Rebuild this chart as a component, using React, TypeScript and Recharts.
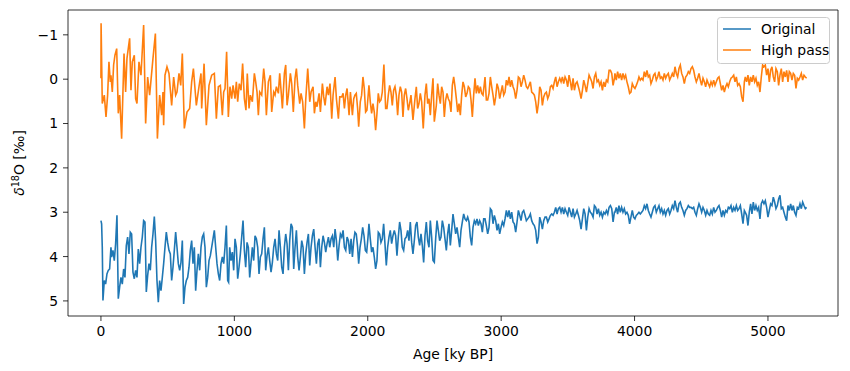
import { LineChart, Line, XAxis, YAxis, ReferenceArea, Legend } from "recharts";

// ages (ky BP) and d18O values, first part differs per series
const highPassAgesEarly = [
  0, 1, 10, 25, 38, 50, 60, 70, 75, 85, 95, 105, 118, 130, 140, 155, 173, 185, 195, 215,
  225, 235, 250, 260, 270, 285, 300, 320, 335, 350, 365, 390, 408, 423, 440, 455, 465, 470, 480, 495,
  510, 530, 545, 560, 570, 585, 598, 610, 625, 645, 665, 680, 693, 715, 735, 750, 755, 773, 790, 810,
  830, 850, 865, 880, 895, 910, 920,
  930, 942, 955, 967, 980, 990, 1005, 1015, 1025, 1037, 1050, 1062, 1075, 1087, 1097, 1110, 1120, 1135, 1150, 1160,
  1170, 1180, 1190, 1205, 1220, 1230, 1240, 1255, 1270, 1280, 1295, 1305, 1315, 1330, 1340, 1350, 1360, 1375, 1385, 1395,
  1405, 1420, 1430, 1442, 1455, 1465, 1475, 1490, 1500, 1512, 1525, 1535, 1550, 1565, 1575, 1590, 1600, 1610, 1620, 1635,
  1645, 1660, 1670, 1680, 1695, 1705, 1717, 1730, 1740, 1755, 1765, 1780, 1790, 1805, 1815, 1825, 1835, 1845, 1860, 1870,
  1885, 1895,
  1904, 1914, 1924, 1932, 1944, 1954, 1964, 1974, 1984, 1994, 2009, 2019, 2029, 2039, 2049, 2059, 2069, 2079, 2089, 2099,
  2109, 2121, 2134, 2144, 2154, 2164, 2174, 2184, 2194, 2204, 2214, 2224, 2234, 2244, 2254, 2264, 2274, 2284, 2294, 2304,
  2314, 2324, 2339, 2354, 2364, 2374, 2384, 2394, 2404, 2416, 2429, 2439, 2449, 2459, 2469, 2479, 2489, 2499, 2514, 2524,
  2534, 2544, 2554, 2564, 2574, 2584, 2594, 2604, 2614, 2624, 2634, 2644, 2654, 2664, 2674, 2684, 2694, 2704, 2714, 2724,
  2734, 2744, 2754, 2764, 2774, 2784, 2794, 2804, 2814, 2824, 2834, 2844, 2854, 2864, 2874,
];
const highPassEarly = [
  -0.02, -1.26, 0.55, 0.36, 0.85, 0.36, -0.39, 0.06, -0.09, 0.29, -0.32, -0.54, -0.69, 0.77, 0.36, 1.34, -0.58, 0.29, -0.47, -0.92,
  0.25, -0.39, -0.54, 0.44, 0.55, -0.39, -0.09, -1.22, 1.0, -0.05, 0.36, -0.47, -1.03, 1.34, 0.36, 0.81, 0.29, 1.04, -0.09, -0.28,
  -0.13, 0.59, -0.05, 0.36, 0.29, -0.13, 0.14, -0.58, 1.11, 0.74, 0.66, 0.06, -0.24, 0.59, 0.17, -0.13, 0.66, -0.35, 1.04, 0.14,
  -0.09, -0.13, 0.89, 0.17, 0.14, 0.81, 0.29,
  0.21, -0.62, 0.85, 0.17, 0.44, 0.14, 0.44, 0.06, 0.51, 0.1, 0.25, -0.35, 0.44, 0.7, -0.13, 0.66, 0.36, 0.51, -0.13, 0.06,
  0.29, 0.81, 0.29, 0.36, -0.24, 0.06, 0.81, 0.06, -0.09, 0.74, 0.29, 0.36, 0.17, 0.32, -0.13, 0.25, 0.66, -0.13, -0.32, 0.59,
  0.36, -0.13, 0.1, 0.74, -0.02, -0.24, 0.14, 0.55, 0.32, 0.51, 1.11, 0.47, -0.24, 0.51, 0.29, 0.17, 0.77, 0.51, 0.62, 0.32,
  0.74, 0.1, 0.4, 0.59, 0.17, 0.36, 0.1, 0.89, 0.36, -0.05, 0.44, 0.89, 0.4, 0.4, 0.32, 0.66, 0.36, 0.21, 0.81, 0.29,
  0.81, 0.44,
  0.36, 0.32, 0.66, 1.07, 0.51, 0.36, -0.05, 0.21, 0.74, 0.7, 0.14, 0.51, 0.77, 0.55, 0.74, 1.15, 0.77, 0.32, 0.51, 0.47,
  0.29, -0.33, 0.66, 0.66, 0.36, 0.14, 0.29, 0.59, 0.25, 0.17, 0.36, 0.81, 0.36, 0.17, 0.29, 0.85, 0.36, 0.21, 0.44, 0.7,
  0.55, 0.36, 0.92, 0.44, 0.17, 0.66, 0.55, 0.32, 0.51, 1.11, 0.36, 0.1, 0.55, 0.44, 0.81, 0.36, -0.02, 0.96, 0.59, 0.1,
  0.36, 0.55, 0.17, 0.29, 0.85, 0.47, 0.32, 0.44, 0.51, 0.74, 0.14, -0.05, 0.17, 0.44, 0.74, 0.55, 0.81, 0.36, 0.06, 0.17,
  0.4, 0.32, 0.17, 0.21, 0.47, 0.85, 0.36, -0.02, 0.32, 0.14, 0.32, 0.17, 0.32, 0.36, 0.1,
];

const originalAgesEarly = [
  0, 5, 10, 15, 25, 35, 45, 55, 65, 75, 80, 90, 100, 110, 120, 130, 140, 150, 160, 170,
  180, 190, 200, 210, 220, 230, 240, 250, 260, 270, 280, 290, 300, 310, 320, 330, 340, 350, 360, 370,
  380, 390, 400, 410, 420, 430, 440, 450, 460, 470, 480, 490, 500, 510, 520, 530, 540, 550, 560, 570,
  580, 590, 600, 610, 620, 630, 640, 650, 660, 670, 680, 690, 700, 710, 720, 730, 740, 750, 760, 770,
  780, 790, 800, 810, 820, 830, 840, 850, 860, 870, 880, 890, 900, 910, 920,
  930, 940, 950, 957, 965, 975, 985, 995, 1005, 1015, 1025, 1035, 1045, 1055, 1065, 1075, 1085, 1095, 1105, 1115,
  1125, 1135, 1145, 1155, 1165, 1175, 1185, 1195, 1205, 1215, 1225, 1235, 1245, 1255, 1265, 1275, 1285, 1295, 1305, 1315,
  1325, 1335, 1345, 1355, 1365, 1375, 1385, 1395, 1405, 1415, 1425, 1435, 1445, 1455, 1465, 1475, 1485, 1495, 1505, 1515,
  1525, 1535, 1545, 1555, 1565, 1575, 1585, 1595, 1605, 1615, 1625, 1635, 1645, 1655, 1665, 1675, 1685, 1695, 1705, 1715,
  1725, 1735, 1745, 1755, 1765, 1775, 1785, 1795, 1805, 1815, 1825, 1835, 1845, 1855, 1865, 1875, 1885, 1895,
  1904, 1914, 1924, 1932, 1942, 1952, 1962, 1972, 1982, 1992, 2002, 2009, 2019, 2029, 2039, 2049, 2059, 2069, 2079, 2089,
  2099, 2109, 2119, 2129, 2139, 2149, 2159, 2169, 2179, 2189, 2199, 2209, 2219, 2229, 2239, 2249, 2259, 2269, 2279, 2289,
  2299, 2309, 2319, 2329, 2339, 2349, 2359, 2369, 2379, 2389, 2399, 2409, 2419, 2429, 2439, 2449, 2459, 2469, 2479, 2489,
  2499, 2509, 2519, 2529, 2539, 2549, 2559, 2569, 2579, 2589, 2599, 2609, 2619, 2629, 2639, 2649, 2659, 2669, 2679, 2689,
  2699, 2709, 2719, 2729, 2739, 2749, 2759, 2769, 2779, 2789, 2799, 2809, 2819, 2829, 2839, 2849, 2859, 2869,
];
const originalEarly = [
  3.19, 3.26, 3.79, 4.99, 4.54, 4.62, 4.39, 4.31, 4.28, 3.79, 4.01, 3.86, 4.09, 3.71, 3.07, 4.95, 4.69, 4.47, 4.62, 4.28,
  4.47, 3.75, 3.56, 3.94, 3.45, 3.49, 4.35, 4.5, 4.31, 4.47, 3.83, 4.16, 3.79, 3.56, 3.19, 3.22, 4.8, 4.43, 4.16, 4.31,
  3.79, 3.49, 3.1, 3.64, 4.54, 5.03, 4.54, 4.77, 4.47, 4.16, 3.79, 3.45, 3.68, 3.86, 3.94, 4.54, 4.24, 3.86, 3.45, 3.79,
  4.16, 4.31, 4.13, 3.64, 5.07, 4.69, 4.54, 4.47, 4.24, 3.86, 3.64, 4.16, 3.79, 4.77, 4.31, 3.94, 4.31, 3.79, 3.56, 3.49,
  3.79, 4.69, 4.47, 4.09, 3.98, 3.79, 3.6, 3.41, 3.79, 4.16, 4.39, 4.54, 4.16, 4.01, 4.16,
  3.79, 3.3, 4.54, 4.58, 3.79, 4.09, 3.9, 4.31, 3.6, 3.79, 4.5, 4.24, 3.94, 3.56, 3.19, 3.86, 4.24, 3.68, 3.79, 4.47,
  4.13, 3.79, 4.09, 3.53, 3.6, 3.79, 4.39, 4.01, 3.94, 3.6, 3.34, 4.31, 3.98, 3.79, 4.09, 4.35, 4.13, 3.79, 3.6, 3.94,
  4.09, 3.41, 3.79, 4.24, 4.39, 3.79, 3.49, 3.71, 4.31, 3.64, 3.26, 3.34, 4.28, 3.79, 3.41, 4.01, 4.31, 4.01, 3.64, 3.79,
  4.39, 3.94, 3.68, 3.49, 4.2, 3.79, 3.53, 3.38, 3.79, 4.16, 3.71, 3.6, 4.24, 3.79, 3.53, 3.68, 3.9, 3.71, 3.56, 3.79,
  3.6, 3.53, 3.79, 3.38, 3.64, 4.09, 3.75, 3.49, 3.56, 3.41, 3.79, 3.86, 3.56, 3.64, 3.94, 3.6, 4.01, 3.64,
  3.45, 3.49, 3.79, 4.16, 3.79, 3.6, 3.34, 3.53, 3.86, 3.9, 3.56, 3.26, 3.6, 3.9, 3.79, 4.01, 4.28, 4.09, 3.45, 3.49,
  3.68, 3.6, 3.26, 3.71, 4.2, 3.79, 3.56, 3.41, 3.71, 3.53, 3.41, 3.53, 3.98, 3.56, 3.22, 3.41, 3.79, 3.86, 3.6, 3.56,
  3.41, 3.64, 3.22, 3.68, 3.94, 3.64, 3.3, 3.22, 3.56, 3.75, 3.49, 3.75, 4.13, 3.53, 3.22, 3.64, 3.79, 3.19, 3.56, 4.09,
  4.13, 3.6, 3.19, 3.41, 3.64, 3.56, 3.19, 3.34, 3.6, 3.86, 3.49, 3.26, 3.75, 3.41, 3.04, 3.26, 3.49, 3.34, 3.56, 3.79,
  3.41, 3.22, 3.04, 3.15, 3.19, 3.11, 3.22, 3.56, 3.75, 3.34, 3.19, 3.26, 3.15, 3.3, 3.19, 3.26, 3.45, 3.15,
];

// later part: both series share the same ages
const lateAges = [
  2879, 2889, 2899, 2909, 2919, 2929, 2939, 2949, 2959, 2969, 2979, 2989, 2999, 3009, 3019, 3029, 3039, 3049, 3059, 3069,
  3079, 3089, 3099, 3109, 3119, 3129, 3139, 3149, 3159, 3169, 3179, 3189, 3199, 3209, 3219, 3229, 3239, 3249, 3259, 3269,
  3279, 3289, 3299, 3309, 3319, 3329, 3339, 3349, 3359, 3369, 3379, 3389, 3399, 3409, 3419, 3429, 3439, 3449, 3459, 3469,
  3479, 3489, 3499, 3509, 3519, 3529, 3539, 3549, 3559, 3569, 3579, 3589, 3599, 3609, 3619, 3629, 3639, 3649, 3659, 3669,
  3679, 3689, 3699, 3709, 3719, 3729, 3739, 3749, 3759, 3769, 3779, 3789, 3799, 3809, 3819, 3829, 3839, 3849,
  3853, 3863, 3873, 3883, 3893, 3903, 3913, 3923, 3933, 3943, 3953, 3963, 3973, 3983, 3993, 4003, 4013, 4023, 4033, 4043,
  4053, 4063, 4073, 4083, 4093, 4103, 4113, 4123, 4133, 4143, 4153, 4163, 4173, 4183, 4193, 4203, 4213, 4223, 4233, 4243,
  4253, 4263, 4273, 4283, 4293, 4303, 4313, 4323, 4333, 4343, 4353, 4363, 4373, 4383, 4393, 4403, 4413, 4423, 4433, 4443,
  4453, 4463, 4473, 4483, 4493, 4503, 4513, 4523, 4533, 4543, 4553, 4563, 4573, 4583, 4593, 4603, 4613, 4623, 4633, 4643,
  4653, 4663, 4673, 4683, 4693, 4703, 4713, 4723, 4733, 4743, 4753, 4763, 4773, 4783, 4793, 4803, 4813, 4823,
  4830, 4840, 4850, 4860, 4870, 4880, 4890, 4900, 4910, 4920, 4930, 4940, 4950, 4960, 4970, 4980, 4990, 5000, 5010, 5020,
  5030, 5040, 5050, 5060, 5070, 5080, 5090, 5100, 5110, 5120, 5130, 5140, 5150, 5160, 5170, 5180, 5190, 5200, 5210, 5220,
  5230, 5240, 5250, 5260, 5270, 5280, 5290,
];
const highPassLate = [
  -0.05, 0.47, 0.47, 0.32, -0.05, 0.17, 0.36, 0.59, 0.4, 0.1, 0.21, 0.44, 0.29, 0.14, 0.36, 0.29, 0.02, 0.14, -0.05, 0.17,
  0.02, 0.17, 0.25, 0.44, 0.25, -0.05, -0.02, 0.17, 0.06, -0.09, 0.02, 0.17, 0.21, 0.14, 0.06, 0.29, 0.32, 0.36, 0.51, 0.77,
  0.55, 0.17, 0.25, 0.59, 0.4, 0.32, 0.29, 0.44, 0.36, 0.17, 0.14, 0.21, 0.06, -0.05, 0.17, 0.06, -0.02, 0.06, -0.05, 0.1,
  -0.05, 0.02, 0.17, -0.09, 0.06, 0.25, -0.02, 0.25, 0.1, 0.06, 0.17, 0.29, 0.44, 0.25, 0.02, 0.14, 0.29, 0.1, -0.09, -0.02,
  0.06, 0.21, -0.05, -0.13, 0.06, 0.02, 0.14, 0.06, 0.25, 0.06, 0.17, 0.02, 0.06, -0.2, -0.2, -0.13, 0.14, -0.02,
  -0.13, 0.02, -0.17, -0.02, -0.13, 0.02, -0.13, -0.02, -0.09, 0.06, 0.17, 0.32, 0.29, 0.1, 0.17, 0.21, 0.14, 0.06, -0.05, 0.02,
  -0.02, 0.02, -0.17, -0.05, -0.2, -0.05, -0.09, 0.1, 0.02, -0.09, -0.13, 0.02, -0.05, -0.17, -0.02, -0.05, 0.02, -0.13, -0.02, -0.09,
  -0.13, 0.02, -0.05, -0.13, -0.05, -0.28, -0.13, -0.05, -0.24, -0.32, -0.13, -0.05, 0.1, -0.05, -0.09, -0.17, -0.13, -0.24, -0.28, -0.2,
  -0.05, 0.06, -0.02, -0.13, 0.02, 0.14, -0.02, 0.06, 0.17, 0.02, 0.1, 0.17, 0.06, 0.14, 0.02, 0.14, 0.06, -0.02, -0.05, 0.1,
  0.25, 0.14, 0.29, 0.17, 0.1, 0.17, 0.06, -0.02, -0.05, -0.09, 0.06, -0.05, 0.14, 0.1, 0.17, 0.4, 0.51, 0.06,
  -0.05, 0.06, -0.09, 0.14, -0.05, 0.06, -0.09, 0.06, -0.02, 0.14, 0.06, 0.29, -0.05, -0.32, -0.28, -0.32, -0.09, -0.24, 0.06, -0.2,
  -0.28, -0.05, 0.06, -0.24, -0.17, 0.14, -0.09, -0.24, 0.06, -0.17, -0.05, -0.2, 0.06, -0.17, -0.13, 0.02, -0.13, -0.09, 0.21, -0.02,
  0.02, -0.05, -0.13, 0.02, -0.09, -0.05, -0.02,
];
const originalLate = [
  3.15, 3.3, 3.49, 3.34, 2.92, 2.96, 3.26, 3.07, 3.19, 3.41, 3.26, 3.49, 3.34, 3.22, 3.3, 3.15, 2.96, 3.11, 2.96, 3.15,
  3.0, 3.22, 3.26, 3.45, 3.22, 2.96, 3.07, 3.19, 3.0, 2.96, 3.07, 3.19, 3.15, 3.11, 3.04, 3.19, 3.26, 3.3, 3.41, 3.71,
  3.56, 3.11, 3.22, 3.38, 3.19, 3.11, 3.11, 3.22, 3.15, 3.07, 3.04, 3.07, 3.0, 2.89, 3.04, 2.92, 2.89, 3.0, 2.89, 3.04,
  2.92, 3.0, 3.07, 2.89, 3.0, 3.11, 2.92, 3.11, 3.04, 2.96, 3.07, 3.19, 3.38, 3.15, 2.92, 3.04, 3.41, 3.11, 2.92, 3.0,
  3.04, 3.11, 2.85, 2.89, 3.04, 2.92, 3.07, 3.0, 3.11, 3.0, 3.04, 2.96, 3.04, 2.89, 2.85, 2.92, 3.22, 3.0,
  3.0, 2.89, 3.04, 2.85, 3.0, 2.89, 3.0, 2.92, 3.04, 3.0, 3.07, 3.26, 3.11, 2.96, 3.11, 3.15, 3.07, 3.04, 3.0, 3.04,
  3.0, 2.96, 2.85, 2.92, 2.81, 2.96, 3.04, 3.11, 3.0, 2.89, 2.85, 3.0, 2.92, 2.85, 3.0, 2.92, 3.04, 2.96, 3.07, 2.96,
  2.92, 3.04, 2.96, 2.85, 2.92, 2.74, 2.89, 3.0, 2.81, 2.77, 2.89, 2.96, 3.07, 2.96, 2.92, 2.85, 2.89, 2.89, 2.92, 2.89,
  3.0, 3.07, 2.92, 2.81, 2.89, 3.0, 2.89, 2.96, 3.07, 2.96, 3.04, 3.07, 2.96, 3.04, 2.89, 3.0, 2.96, 2.89, 2.85, 2.96,
  3.11, 2.96, 3.07, 2.96, 3.0, 2.89, 2.92, 2.85, 3.0, 2.89, 2.96, 2.85, 2.96, 2.92, 2.85, 3.04, 3.26, 2.96,
  3.0, 3.07, 3.3, 3.0, 2.81, 3.04, 2.77, 2.96, 2.85, 2.96, 2.89, 3.15, 2.81, 2.74, 2.81, 2.74, 2.89, 3.11, 2.96, 2.81,
  2.85, 2.66, 2.77, 2.92, 2.85, 2.7, 2.62, 2.92, 2.89, 3.0, 3.11, 3.19, 2.85, 2.96, 2.81, 2.96, 2.85, 3.0, 3.07, 2.89,
  2.92, 2.81, 2.92, 2.77, 2.85, 2.92, 2.89,
];

const xTicks = [0, 1000, 2000, 3000, 4000, 5000];
const yTicks = [-1, 0, 1, 2, 3, 4, 5];

const X_DOMAIN = [-247, 5525];
const Y_DOMAIN = [-1.56, 5.34];
const BLUE = "#1f77b4";
const ORANGE = "#ff7f0e";
const FONT = "DejaVu Sans, sans-serif";

const toRows = (ages: number[], vals: number[]) =>
  ages.map((age, i) => ({ age, value: vals[i] })).filter((d) => d.value !== undefined);

const originalData = [
  ...toRows(originalAgesEarly, originalEarly),
  ...toRows(lateAges, originalLate),
];
const highPassData = [
  ...toRows(highPassAgesEarly, highPassEarly),
  ...toRows(lateAges, highPassLate),
];

const fmt = (v: number) => (v < 0 ? "\u2212" + Math.abs(v) : String(v));

function LegendBox() {
  return (
    <svg width={114} height={48} style={{ display: "block" }}>
      <rect x={0.5} y={0.5} width={112} height={46} rx={3} fill="#fff" fillOpacity={0.8} stroke="#cccccc" />
      <line x1={6} x2={34} y1={12} y2={12} stroke={BLUE} strokeWidth={1.5} />
      <text x={44} y={12} dy="0.35em" fontSize={13.9} fontFamily={FONT} fill="#000">
        Original
      </text>
      <line x1={6} x2={34} y1={33} y2={33} stroke={ORANGE} strokeWidth={1.5} />
      <text x={44} y={33} dy="0.35em" fontSize={13.9} fontFamily={FONT} fill="#000">
        High pass
      </text>
    </svg>
  );
}

export default function App() {
  return (
    <div style={{ position: "absolute", left: 0, top: 0 }}>
      <LineChart
        width={850}
        height={371}
        margin={{ top: 10, right: 12, left: 0, bottom: 0 }}
      >
        <XAxis
          dataKey="age"
          type="number"
          domain={X_DOMAIN}
          allowDataOverflow
          ticks={xTicks}
          axisLine={false}
          tickLine={{ stroke: "#000", strokeWidth: 0.8 }}
          tickSize={5}
          tickMargin={5}
          height={55}
          tick={{ fill: "#000", fontSize: 13.9, fontFamily: FONT }}
          label={{
            value: "Age [ky BP]",
            position: "insideBottom",
            offset: 12,
            fill: "#000",
            fontSize: 13.9,
            fontFamily: FONT,
          }}
        />
        <YAxis
          type="number"
          domain={Y_DOMAIN}
          reversed
          allowDataOverflow
          ticks={yTicks}
          tickFormatter={fmt}
          axisLine={false}
          tickLine={{ stroke: "#000", strokeWidth: 0.8 }}
          tickSize={5}
          tickMargin={5}
          width={68}
          tick={{ fill: "#000", fontSize: 13.9, fontFamily: FONT }}
          label={{
            content: () => (
              <text
                transform="translate(24,163) rotate(-90)"
                textAnchor="middle"
                fontSize={13.9}
                fontFamily={FONT}
                fill="#000"
              >
                <tspan fontStyle="italic">δ</tspan>
                <tspan fontSize={9.7} dy={-5}>18</tspan>
                <tspan dy={5}>O [‰]</tspan>
              </text>
            ),
          }}
        />
        <ReferenceArea
          x1={X_DOMAIN[0]}
          x2={X_DOMAIN[1]}
          y1={Y_DOMAIN[0]}
          y2={Y_DOMAIN[1]}
          fill="none"
          stroke="#000"
          strokeWidth={0.8}
          ifOverflow="visible"
        />
        <Line
          data={originalData}
          dataKey="value"
          name="Original"
          stroke={BLUE}
          strokeWidth={1.6}
          dot={false}
          activeDot={false}
          isAnimationActive={false}
        />
        <Line
          data={highPassData}
          dataKey="value"
          name="High pass"
          stroke={ORANGE}
          strokeWidth={1.6}
          dot={false}
          activeDot={false}
          isAnimationActive={false}
        />
        <Legend
          layout="vertical"
          align="center"
          verticalAlign="middle"
          content={() => <LegendBox />}
          wrapperStyle={{ position: "absolute", left: 717, top: 17, width: 114, height: 48 }}
        />
      </LineChart>
    </div>
  );
}
